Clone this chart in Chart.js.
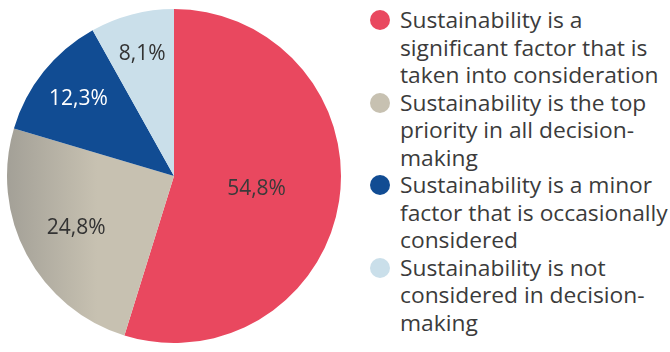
<!DOCTYPE html>
<html>
<head>
<meta charset="utf-8">
<script src="https://cdn.jsdelivr.net/npm/chart.js@4.4.1/dist/chart.umd.min.js"></script>
<style>
  html, body { margin: 0; padding: 0; background: #fff; }
  body { width: 670px; height: 352px; position: relative; overflow: hidden; font-family: "Open Sans", sans-serif; }
  .pie-wrap { position: absolute; left: 0; top: 0; width: 349px; height: 352px; }
  .legend { position: absolute; left: 370px; top: 6px; margin: 0; padding: 0; list-style: none; }
  .legend li { position: relative; padding-left: 30px; }
  .legend .dot { position: absolute; left: 0; top: 4px; width: 20px; height: 20px; border-radius: 50%; }
  .legend .txt { display: block; width: 264px; font-size: 21.5px; line-height: 27.5px; color: #3b3b3b;
    transform: scaleX(1.06); transform-origin: 0 0; }
</style>
</head>
<body>
<div class="pie-wrap"><canvas id="pieChart"></canvas></div>
<ul class="legend" id="legend"></ul>
<script>
const categories = [
  'Sustainability is a significant factor that is taken into consideration',
  'Sustainability is the top priority in all decision-making',
  'Sustainability is a minor factor that is occasionally considered',
  'Sustainability is not considered in decision-making'
];
const shares = [54.8, 24.8, 12.3, 8.1];
const sliceColors = ['#e9485f', '#c7c1b1', '#114c93', '#cadfea'];
const labelColors = ['#3a3a3a', '#333333', '#ffffff', '#333333'];

const fmt = v => v.toFixed(1).replace('.', ',') + '%';

// html legend (labels wrap over several lines)
document.getElementById('legend').innerHTML = categories.map((c, i) =>
  `<li><span class="dot" style="background:${sliceColors[i]}"></span><span class="txt">${c}</span></li>`).join('');

const sliceLabels = {
  id: 'sliceLabels',
  afterDatasetsDraw(chart) {
    const { ctx } = chart;
    const meta = chart.getDatasetMeta(0);
    const maxV = Math.max(...shares);
    ctx.save();
    ctx.font = '21px "Open Sans"';
    ctx.textAlign = 'center';
    ctx.textBaseline = 'middle';
    meta.data.forEach((arc, i) => {
      const p = arc.getProps(['x', 'y', 'startAngle', 'endAngle', 'outerRadius']);
      const mid = (p.startAngle + p.endAngle) / 2;
      const f = 0.5 + 0.3 * (1 - shares[i] / maxV);
      const r = p.outerRadius * f;
      ctx.fillStyle = labelColors[i];
      ctx.fillText(fmt(shares[i]), p.x + Math.cos(mid) * r, p.y + Math.sin(mid) * r);
    });
    ctx.restore();
  }
};

new Chart(document.getElementById('pieChart'), {
  type: 'pie',
  data: {
    labels: categories,
    datasets: [{
      data: shares,
      backgroundColor: (c) => {
        if (c.dataIndex !== 1 || !c.chart.chartArea) return sliceColors[c.dataIndex];
        const a = c.chart.chartArea;
        const g = c.chart.ctx.createLinearGradient(a.left, 0, a.left + 90, 0);
        g.addColorStop(0, '#a3a097');
        g.addColorStop(1, sliceColors[1]);
        return g;
      },
      borderWidth: 0
    }]
  },
  options: {
    responsive: true,
    maintainAspectRatio: false,
    animation: false,
    layout: { padding: { left: 7, right: 8, top: 9, bottom: 9 } },
    plugins: { legend: { display: false }, tooltip: { enabled: false } }
  },
  plugins: [sliceLabels]
});
</script>
</body>
</html>
